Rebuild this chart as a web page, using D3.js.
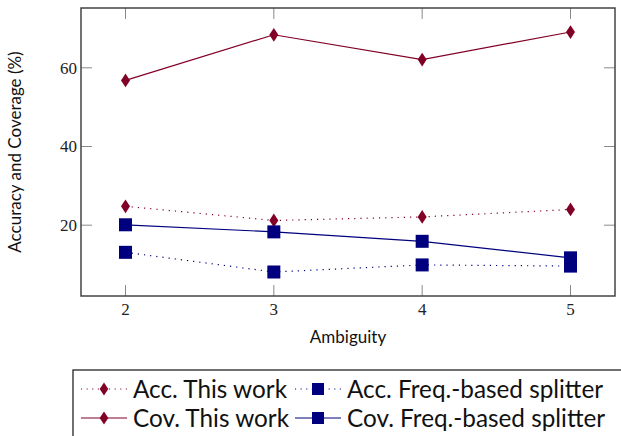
<!DOCTYPE html>
<html lang="en">
<head>
    <meta charset="UTF-8">
    <title>Accuracy and Coverage vs Ambiguity</title>
    <script src="https://d3js.org/d3.v7.min.js"></script>
    <style>
        html, body { margin: 0; padding: 0; background: #fff; }
        svg { display: block; }
    </style>
</head>
<body>
    <div id="chart"></div>
    <script>
        // values
        const ambiguity = [2, 3, 4, 5];
        const accThisWork = [24.8, 21.2, 22.1, 24.0];
        const covThisWork = [56.8, 68.4, 62.1, 69.1];
        const accFreq = [13.1, 8.1, 9.9, 9.6];
        const covFreq = [20.1, 18.3, 15.9, 11.7];
        const yTicks = [20, 40, 60];

        const red = "#800026", navy = "#00007f";
        const series = [
            { name: "Acc. This work", values: accThisWork, color: red, dotted: true, mark: "diamond" },
            { name: "Acc. Freq.-based splitter", values: accFreq, color: navy, dotted: true, mark: "square" },
            { name: "Cov. This work", values: covThisWork, color: red, dotted: false, mark: "diamond" },
            { name: "Cov. Freq.-based splitter", values: covFreq, color: navy, dotted: false, mark: "square" }
        ];

        const W = 621, H = 436;
        const margin = { top: 8, right: 6, bottom: 140, left: 81 };

        const svg = d3.select("#chart").append("svg")
            .attr("width", W).attr("height", H);

        // pgfplots-style enlarged limits
        const allY = series.flatMap(s => s.values);
        const yMin = d3.min(allY), yMax = d3.max(allY), yr = yMax - yMin;
        const x = d3.scaleLinear().domain([1.7, 5.3]).range([margin.left, W - margin.right]);
        const y = d3.scaleLinear().domain([yMin - 0.1 * yr, yMax + 0.1 * yr]).range([H - margin.bottom, margin.top]);
        const yBottom = y.range()[0], yTop = y.range()[1];

        const tickLen = 11;
        const tickFont = "'Liberation Serif', serif";
        const labelFont = "17px Lato, sans-serif";

        // ticks (inside, both sides)
        const ticks = svg.append("g").attr("stroke", "#8a8a8a").attr("stroke-width", 1);
        ambiguity.forEach(v => {
            ticks.append("line").attr("x1", x(v)).attr("x2", x(v)).attr("y1", yBottom).attr("y2", yBottom - tickLen);
            ticks.append("line").attr("x1", x(v)).attr("x2", x(v)).attr("y1", yTop).attr("y2", yTop + tickLen);
        });
        yTicks.forEach(v => {
            ticks.append("line").attr("x1", x.range()[0]).attr("x2", x.range()[0] + tickLen).attr("y1", y(v)).attr("y2", y(v));
            ticks.append("line").attr("x1", x.range()[1]).attr("x2", x.range()[1] - tickLen).attr("y1", y(v)).attr("y2", y(v));
        });

        // tick labels
        svg.append("g").selectAll("text").data(ambiguity).join("text")
            .attr("x", d => x(d)).attr("y", yBottom + 19)
            .attr("text-anchor", "middle")
            .style("font", `17px ${tickFont}`).attr("fill", "#222")
            .text(d => d);
        svg.append("g").selectAll("text").data(yTicks).join("text")
            .attr("x", x.range()[0] - 4).attr("y", d => y(d) + 6)
            .attr("text-anchor", "end")
            .style("font", `17px ${tickFont}`).attr("fill", "#222")
            .text(d => d);

        // frame
        svg.append("rect")
            .attr("x", x.range()[0]).attr("y", yTop)
            .attr("width", x.range()[1] - x.range()[0]).attr("height", yBottom - yTop)
            .attr("fill", "none").attr("stroke", "#444").attr("stroke-width", 1.5);

        // axis labels
        svg.append("text")
            .attr("x", (x.range()[0] + x.range()[1]) / 2).attr("y", 343)
            .attr("text-anchor", "middle")
            .style("font", labelFont).attr("fill", "#111")
            .text("Ambiguity");
        svg.append("text")
            .attr("transform", `translate(21,${(yTop + yBottom) / 2}) rotate(-90)`)
            .attr("text-anchor", "middle")
            .style("font", labelFont).attr("fill", "#111")
            .text("Accuracy and Coverage (%)");

        function drawMark(g, type, color, cx, cy, s) {
            if (type === "diamond") {
                g.append("path")
                    .attr("d", `M${cx},${cy - s * 0.55}L${cx + s * 0.36},${cy}L${cx},${cy + s * 0.55}L${cx - s * 0.36},${cy}Z`)
                    .attr("fill", color);
            } else {
                g.append("rect")
                    .attr("x", cx - s / 2).attr("y", cy - s / 2)
                    .attr("width", s).attr("height", s)
                    .attr("fill", color);
            }
        }

        const line = d3.line().x(d => x(d[0])).y(d => y(d[1]));
        const plot = svg.append("g");
        series.forEach(s => {
            const pts = ambiguity.map((a, i) => [a, s.values[i]]);
            plot.append("path").datum(pts)
                .attr("d", line)
                .attr("fill", "none").attr("stroke", s.color)
                .attr("stroke-width", s.dotted ? 1.2 : 1.2)
                .attr("stroke-dasharray", s.dotted ? "1.2,5" : null);
            pts.forEach(p => drawMark(plot, s.mark, s.color, x(p[0]), y(p[1]), s.mark === "diamond" ? 12.5 : 13));
        });

        // legend
        const lg = svg.append("g");
        lg.append("rect").attr("x", 73).attr("y", 370).attr("width", 560).attr("height", 80)
            .attr("fill", "#fff").attr("stroke", "#111").attr("stroke-width", 1.2);
        const cols = [81, 295];
        const textX = [133, 347];
        const rows = [389, 418];
        series.forEach((s, i) => {
            const c = i % 2, r = Math.floor(i / 2);
            const cy = rows[r];
            lg.append("line").attr("x1", cols[c]).attr("x2", cols[c] + 46).attr("y1", cy).attr("y2", cy)
                .attr("stroke", s.color).attr("stroke-width", s.dotted ? 1.1 : 1.2)
                .attr("stroke-dasharray", s.dotted ? "1.1,4.5" : null);
            drawMark(lg, s.mark, s.color, cols[c] + 23, cy, s.mark === "diamond" ? 12 : 12);
            lg.append("text").attr("x", textX[c]).attr("y", cy + 9)
                .style("font", "24.3px Lato, sans-serif").attr("fill", "#111")
                .text(s.name);
        });
    </script>
</body>
</html>
